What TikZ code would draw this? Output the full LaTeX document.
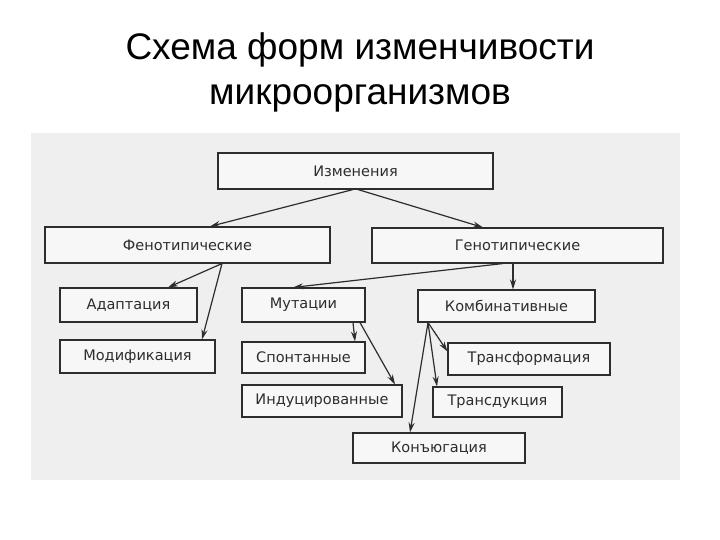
\documentclass[tikz,border=0pt]{standalone}
\usepackage{fontspec}
\setmainfont{Liberation Sans}
\newfontfamily\boxfont{DejaVu Sans}
\usetikzlibrary{arrows.meta,calc}
\definecolor{scanbg}{RGB}{239,239,239}
\definecolor{ink}{RGB}{45,45,45}
\definecolor{boxbg}{RGB}{247,247,247}
\tikzset{
  blk/.style={draw=ink, line width=1.1pt, fill=boxbg, inner sep=0pt, anchor=center,
    font=\boxfont\fontsize{14.5}{16}\selectfont, text=ink},
  conn/.style={draw=ink, line width=1.2pt, -{Stealth[length=10pt,width=6pt]}},
  ttl/.style={font=\fontsize{37}{44}\selectfont, anchor=base, inner sep=0pt, text=black}
}
\begin{document}
\begin{tikzpicture}[x=1pt,y=-1pt]
\useasboundingbox[fill=white] (0,0) rectangle (720,540);
\fill[scanbg] (31,133) rectangle (680,480);
\node[ttl] (t1) at (360,60) {Схема форм изменчивости};
\node[ttl] (t2) at (360,105) {микроорганизмов};

\node[blk, minimum width=275pt, minimum height=36pt] (izm) at (355.5,171) {Изменения};
\node[blk, minimum width=285pt, minimum height=36pt] (fen) at (187.5,245) {Фенотипические};
\node[blk, minimum width=291pt, minimum height=35pt] (gen) at (517.5,245.5) {Генотипические};
\node[blk, minimum width=137pt, minimum height=34pt] (adapt) at (128.5,305) {Адаптация};
\node[blk, minimum width=155pt, minimum height=33pt] (modif) at (137.5,356.5) {Модификация};
\node[blk, minimum width=123pt, minimum height=34pt] (mut) at (303.5,305) {Мутации};
\node[blk, minimum width=123pt, minimum height=31pt] (spont) at (303.5,357.5) {Спонтанные};
\node[blk, minimum width=160pt, minimum height=32pt] (indu) at (322,401) {Индуцированные};
\node[blk, minimum width=177pt, minimum height=32pt] (komb) at (506.5,306) {Комбинативные};
\node[blk, minimum width=162pt, minimum height=32pt] (transf) at (529,359) {Трансформация};
\node[blk, minimum width=129pt, minimum height=30pt] (transd) at (497.5,402) {Трансдукция};
\node[blk, minimum width=172pt, minimum height=30pt] (konj) at (439,448) {Конъюгация};

\draw[conn] ([xshift=-2.5pt]izm.south) -- ([xshift=22.5pt]fen.north);
\draw[conn] ([xshift=2.5pt]izm.south) -- ([xshift=-34.5pt]gen.north);
\draw[conn] ([xshift=34.5pt]fen.south) -- ([xshift=39.5pt]adapt.north);
\draw[conn] ([xshift=34.5pt]fen.south) -- ([xshift=64.5pt]modif.north);
\draw[conn] ([xshift=-14.5pt]gen.south) -- ([xshift=-10.5pt]mut.north);
\draw[conn] ([xshift=-4.5pt]gen.south) -- ([xshift=6.5pt]komb.north);
\draw[conn] ([xshift=49.5pt]mut.south) -- ([xshift=51.5pt]spont.north);
\draw[conn] ([xshift=56.5pt]mut.south) -- ([xshift=73pt]indu.north);
\draw[conn] ([xshift=-78.5pt]komb.south) -- ([yshift=-9pt]transf.north west);
\draw[conn] ([xshift=-78.5pt]komb.south) -- ([xshift=-60.5pt]transd.north);
\draw[conn] ([xshift=-78.5pt]komb.south) -- ([xshift=-29pt]konj.north);
\end{tikzpicture}
\end{document}
